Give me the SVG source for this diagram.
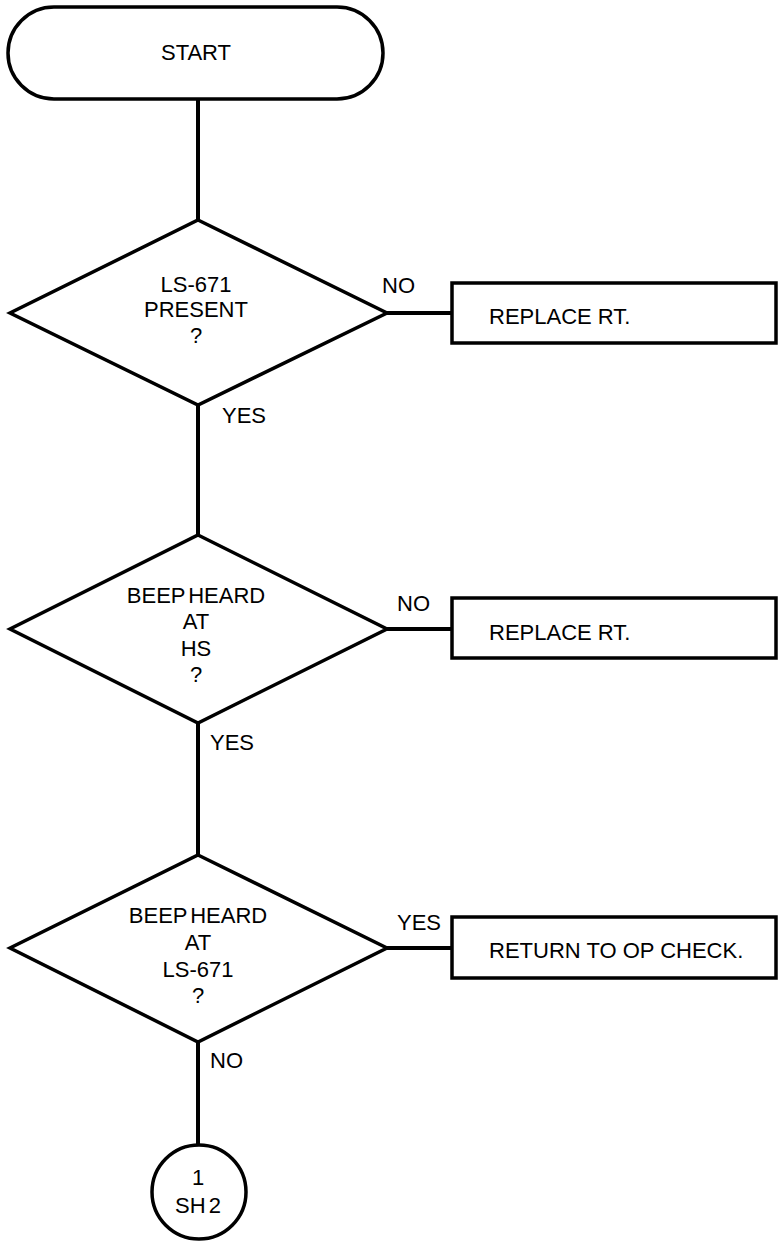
<svg xmlns="http://www.w3.org/2000/svg" width="778" height="1241" viewBox="0 0 778 1241">
<style>
.s{fill:#fff;stroke:#000;stroke-width:3.5}
.c{fill:none;stroke:#000;stroke-width:4}
text{font-family:"Liberation Sans",Arial,sans-serif;font-size:22px;fill:#000}
.m{text-anchor:middle}
.t{word-spacing:-3px}
</style>
<rect width="778" height="1241" fill="#fff"/>
<g id="connectors">
<line class="c" x1="198" y1="99" x2="198" y2="220"/>
<line class="c" x1="387" y1="313" x2="452" y2="313"/>
<line class="c" x1="198" y1="405" x2="198" y2="535"/>
<line class="c" x1="387" y1="629" x2="452" y2="629"/>
<line class="c" x1="198" y1="723" x2="198" y2="855"/>
<line class="c" x1="387" y1="948" x2="452" y2="948"/>
<line class="c" x1="198" y1="1042" x2="198" y2="1145"/>
<text x="382" y="293">NO</text>
<text x="222" y="423">YES</text>
<text x="397" y="611">NO</text>
<text x="210" y="750">YES</text>
<text x="397" y="930">YES</text>
<text x="210" y="1068">NO</text>
</g>
<g id="start">
<rect class="s" x="8" y="7" width="375" height="92" rx="46" ry="46"/>
<text class="m" x="196" y="60">START</text>
</g>
<g id="d1">
<polygon class="s" points="198,220 387,313 198,405 10,313"/>
<text class="m" x="196" y="292">LS-671</text>
<text class="m" x="196" y="317">PRESENT</text>
<text class="m" x="196" y="343">?</text>
</g>
<g id="b1">
<rect class="s" x="452" y="283" width="324" height="60"/>
<text x="489" y="324">REPLACE RT.</text>
</g>
<g id="d2">
<polygon class="s" points="198,535 387,629 198,723 10,629"/>
<text class="m t" x="196" y="603">BEEP HEARD</text>
<text class="m" x="196" y="629">AT</text>
<text class="m" x="196" y="656">HS</text>
<text class="m" x="196" y="682">?</text>
</g>
<g id="b2">
<rect class="s" x="452" y="598" width="324" height="60"/>
<text x="489" y="640">REPLACE RT.</text>
</g>
<g id="d3">
<polygon class="s" points="198,855 387,948 198,1042 10,948"/>
<text class="m t" x="198" y="923">BEEP HEARD</text>
<text class="m" x="198" y="950">AT</text>
<text class="m" x="198" y="977">LS-671</text>
<text class="m" x="198" y="1003">?</text>
</g>
<g id="b3">
<rect class="s" x="452" y="917" width="324" height="61"/>
<text x="489" y="958">RETURN TO OP CHECK.</text>
</g>
<g id="conn1">
<circle class="s" cx="199" cy="1192" r="47"/>
<text class="m" x="198" y="1185">1</text>
<text class="m t" x="198" y="1213">SH 2</text>
</g>
</svg>
